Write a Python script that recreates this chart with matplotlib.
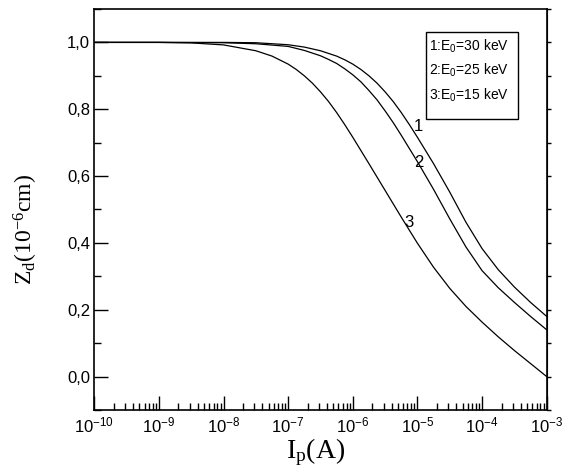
import numpy as np
import matplotlib
matplotlib.use("Agg")
import matplotlib.pyplot as plt
from matplotlib.ticker import LogLocator, NullFormatter, FixedLocator, FuncFormatter, MultipleLocator
from matplotlib.patches import Rectangle

# log10 of probe current I_p (A) and depth Z_d (1e-6 cm) for the three beam energies
logI_30 = [-10, -9, -8, -7.5, -7.0, -6.75, -6.5, -6.25, -6.125, -6.0, -5.875, -5.75,
           -5.625, -5.5, -5.375, -5.25, -5.125, -5.0, -4.75, -4.5, -4.25, -4.0,
           -3.75, -3.5, -3.25, -3.0]
Zd_30 = [1.0, 1.0, 1.0, 0.999, 0.993, 0.986, 0.975, 0.959, 0.948, 0.935, 0.919, 0.900,
         0.878, 0.852, 0.823, 0.790, 0.754, 0.716, 0.637, 0.552, 0.462, 0.383,
         0.320, 0.268, 0.222, 0.180]

logI_25 = [-10, -9, -8, -7.5, -7.0, -6.75, -6.5, -6.375, -6.25, -6.125, -6.0, -5.875,
           -5.75, -5.625, -5.5, -5.375, -5.25, -5.0, -4.75, -4.5, -4.25, -4.0,
           -3.75, -3.5, -3.25, -3.0]
Zd_25 = [1.0, 1.0, 0.999, 0.996, 0.988, 0.976, 0.960, 0.949, 0.937, 0.921, 0.903, 0.882,
         0.856, 0.828, 0.795, 0.760, 0.722, 0.643, 0.560, 0.472, 0.388, 0.317,
         0.266, 0.222, 0.180, 0.140]

logI_15 = [-10, -9, -8.5, -8, -7.5, -7.25, -7.0, -6.875, -6.75, -6.625, -6.5, -6.375,
           -6.25, -6.125, -6.0, -5.75, -5.5, -5.25, -5.0, -4.75, -4.5, -4.25, -4.0,
           -3.75, -3.5, -3.25, -3.0]
Zd_15 = [1.0, 1.0, 0.9985, 0.9925, 0.975, 0.959, 0.935, 0.919, 0.900, 0.878, 0.852, 0.823,
         0.790, 0.754, 0.716, 0.637, 0.557, 0.477, 0.399, 0.327, 0.264, 0.210, 0.163,
         0.119, 0.078, 0.039, 0.0]

legend_lines = [r"1:E$\mathregular{_0}$=30 keV", r"2:E$\mathregular{_0}$=25 keV",
                r"3:E$\mathregular{_0}$=15 keV"]
curve_tags = ["1", "2", "3"]
tag_pos = [(10**-4.987, 0.747), (10**-4.976, 0.642), (10**-5.126, 0.46)]

sans = ["Liberation Sans", "DejaVu Sans"]
serif = ["Liberation Serif", "DejaVu Serif"]

fig = plt.figure(figsize=(5.68, 4.73), dpi=100)
ax = fig.add_axes([0.166, 0.1332, 0.7965, 0.8478])

for lx, z in [(logI_30, Zd_30), (logI_25, Zd_25), (logI_15, Zd_15)]:
    ax.plot(10.0 ** np.array(lx), z, color="black", lw=0.9)

ax.set_xscale("log")
ax.set_xlim(1e-10, 1e-3)
ax.set_ylim(-0.1, 1.1)

ax.xaxis.set_major_locator(LogLocator(base=10, numticks=20))
ax.xaxis.set_minor_locator(LogLocator(base=10, subs=np.arange(2, 10), numticks=100))
ax.xaxis.set_minor_formatter(NullFormatter())
ax.xaxis.set_major_formatter(FuncFormatter(
    lambda v, p: r"$\mathregular{10^{%d}}$" % int(round(np.log10(v)))))

ax.yaxis.set_major_locator(FixedLocator([0.0, 0.2, 0.4, 0.6, 0.8, 1.0]))
ax.yaxis.set_minor_locator(MultipleLocator(0.1))
ax.yaxis.set_major_formatter(FuncFormatter(lambda v, p: ("%.1f" % v).replace(".", ",")))

ax.tick_params(which="major", direction="in", length=10, width=1.0, pad=3)
ax.tick_params(which="minor", direction="in", length=5, width=1.0)
ax.tick_params(axis="x", which="major", pad=4)
for lab in ax.get_xticklabels() + ax.get_yticklabels():
    lab.set_family(sans)
    lab.set_fontsize(12)

for s in ax.spines.values():
    s.set_linewidth(1.2)

# small outward ticks on the right edge
sec = ax.secondary_yaxis("right")
sec.yaxis.set_major_locator(MultipleLocator(0.1))
sec.tick_params(direction="out", length=3, width=1.0, labelright=False)

ax.set_xlabel(r"$\mathregular{I_p(A)}$", family=serif, fontsize=20)
ax.xaxis.set_label_coords(0.49, -0.065)
ax.set_ylabel(r"$\mathregular{Z_d(10^{-6}cm)}$", family=serif, fontsize=17)
ax.yaxis.set_label_coords(-0.12, 0.45)

# energy key
ax.add_patch(Rectangle((0.733, 0.725), 0.203, 0.217, transform=ax.transAxes,
                       fill=False, ec="black", lw=1.0))
for i, t in enumerate(legend_lines):
    ax.text(0.740, 0.907 - 0.061 * i, t, transform=ax.transAxes, family=sans,
            fontsize=10, va="center", ha="left")

for t, (x, y) in zip(curve_tags, tag_pos):
    ax.text(x, y, t, family=sans, fontsize=12, ha="center", va="center")

fig.savefig("out.png", dpi=100)
